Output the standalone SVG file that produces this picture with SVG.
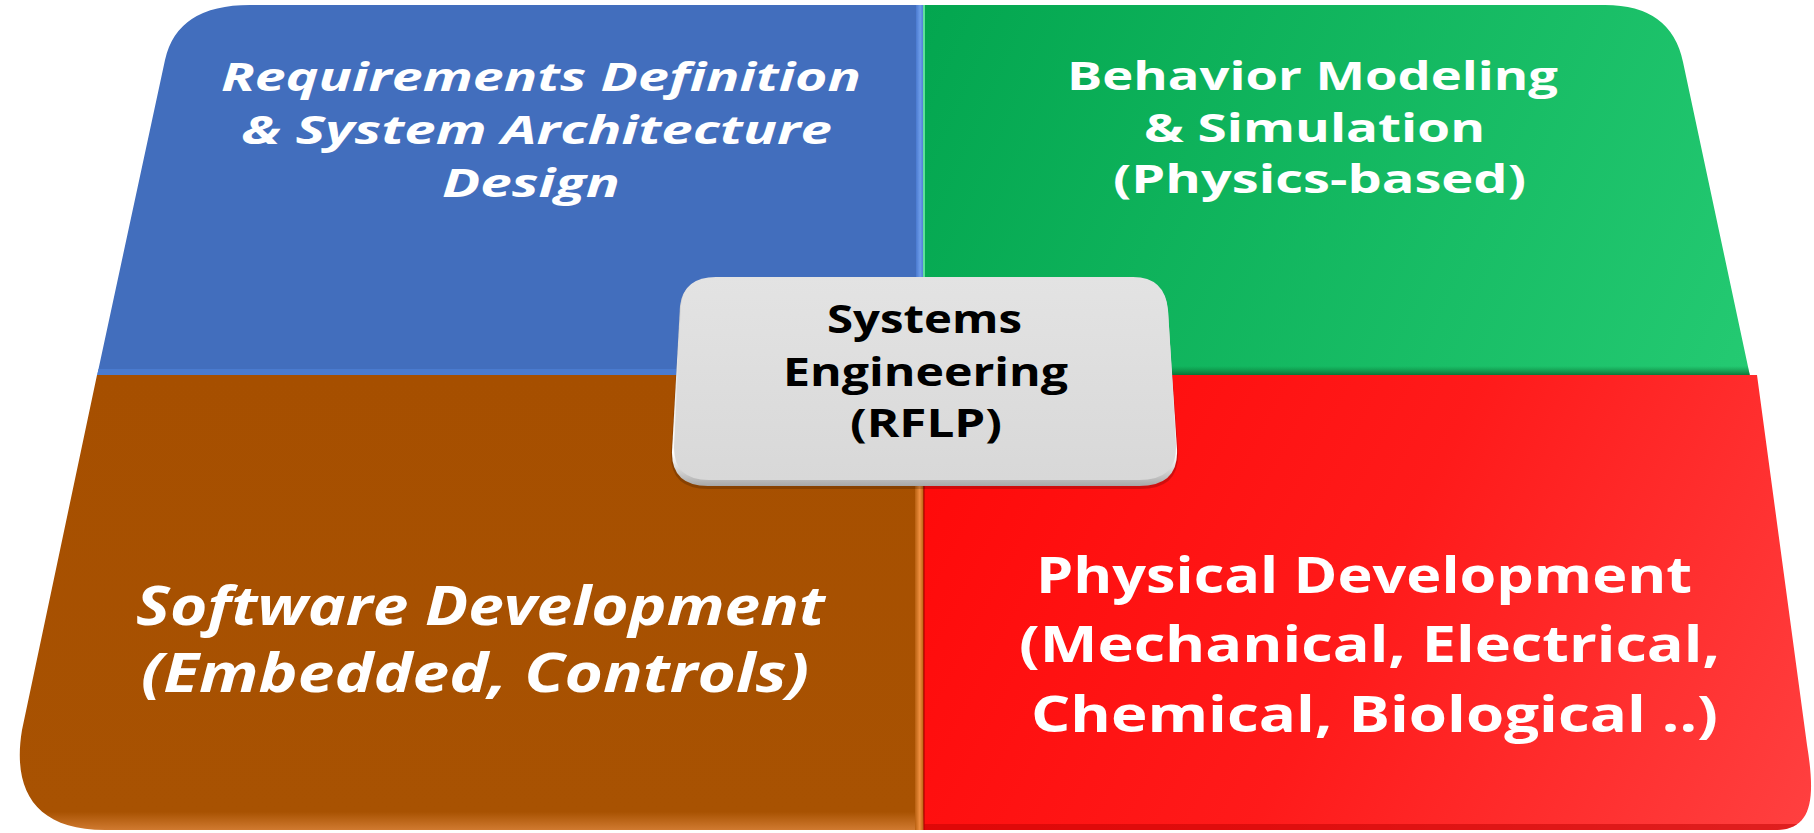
<svg xmlns="http://www.w3.org/2000/svg" width="1814" height="833" viewBox="0 0 1814 833">
  <style>
    .t { font-family: "Open Sans", "Noto Sans", "Liberation Sans", sans-serif; font-weight: bold; fill: #ffffff; }
    .i { font-style: italic; }
    .k { fill: #000000; }
  </style>
  <defs>
    <clipPath id="topClip">
      <path d="M 250,5 L 1605,5 Q 1671,5 1683,62 L 1750,376 L 97,376 L 165,60 Q 177,5 250,5 Z"/>
    </clipPath>
    <clipPath id="botClip">
      <path d="M 97,375 L 1757,375 L 1807,745 C 1816,800 1812,830 1775,830 L 105,830 C 35,830 12,790 22,730 Z"/>
    </clipPath>
    <linearGradient id="gGreen" gradientUnits="userSpaceOnUse" x1="925" y1="5" x2="1750" y2="376">
      <stop offset="0" stop-color="#03A64F"/>
      <stop offset="1" stop-color="#24CA72"/>
    </linearGradient>
    <linearGradient id="gRed" gradientUnits="userSpaceOnUse" x1="925" y1="376" x2="1810" y2="830">
      <stop offset="0" stop-color="#FF0808"/>
      <stop offset="0.5" stop-color="#FF1A1A"/>
      <stop offset="1" stop-color="#FF4040"/>
    </linearGradient>
    <linearGradient id="gBrown" gradientUnits="userSpaceOnUse" x1="0" y1="376" x2="0" y2="830">
      <stop offset="0" stop-color="#A64F00"/>
      <stop offset="0.96" stop-color="#A85202"/>
      <stop offset="1" stop-color="#D07A30"/>
    </linearGradient>
    <linearGradient id="gGreenShade" x1="0" y1="0" x2="0" y2="1">
      <stop offset="0" stop-color="#0A7A38" stop-opacity="0"/>
      <stop offset="1" stop-color="#07602B" stop-opacity="0.9"/>
    </linearGradient>
    <linearGradient id="gBoxFace" x1="0" y1="0" x2="0" y2="1">
      <stop offset="0" stop-color="#E3E3E3"/>
      <stop offset="1" stop-color="#D8D8D8"/>
    </linearGradient>
    <linearGradient id="gBoxRim" x1="0" y1="0" x2="0" y2="1">
      <stop offset="0" stop-color="#C8C8C8"/>
      <stop offset="0.85" stop-color="#FFFFFF"/>
      <stop offset="1" stop-color="#A8A8A8"/>
    </linearGradient>
    <linearGradient id="gSeamBlue" x1="0" y1="0" x2="1" y2="0">
      <stop offset="0" stop-color="#4A7AD0"/>
      <stop offset="0.6" stop-color="#6E9DEA"/>
      <stop offset="1" stop-color="#4F80D6"/>
    </linearGradient>
    <linearGradient id="gSeamOrange" x1="0" y1="0" x2="1" y2="0">
      <stop offset="0" stop-color="#B86010"/>
      <stop offset="0.6" stop-color="#F09040"/>
      <stop offset="1" stop-color="#C06818"/>
    </linearGradient>
  </defs>

  <g id="quadrant-requirements">
    <g clip-path="url(#topClip)">
      <rect x="0" y="0" width="923" height="380" fill="#426EBD"/>
      <rect x="916" y="0" width="7" height="380" fill="url(#gSeamBlue)"/>
      <rect x="0" y="369" width="923" height="7" fill="#4A7BCF"/>
    </g>
    <text class="t i" x="221" y="91" font-size="40" textLength="640" lengthAdjust="spacingAndGlyphs">Requirements Definition</text>
    <text class="t i" x="241" y="144" font-size="40" textLength="591" lengthAdjust="spacingAndGlyphs">&amp; System Architecture</text>
    <text class="t i" x="442" y="197" font-size="40" textLength="178" lengthAdjust="spacingAndGlyphs">Design</text>
  </g>

  <g id="quadrant-behavior">
    <g clip-path="url(#topClip)">
      <rect x="923" y="0" width="900" height="380" fill="url(#gGreen)"/>
      <rect x="923" y="0" width="2" height="380" fill="#5FE09A"/>
      <rect x="923" y="366" width="900" height="10" fill="url(#gGreenShade)"/>
    </g>
    <text class="t" x="1067" y="90" font-size="39" textLength="491" lengthAdjust="spacingAndGlyphs">Behavior Modeling</text>
    <text class="t" x="1144" y="142" font-size="39" textLength="341" lengthAdjust="spacingAndGlyphs">&amp; Simulation</text>
    <text class="t" x="1113" y="193" font-size="39" textLength="413" lengthAdjust="spacingAndGlyphs">(Physics-based)</text>
  </g>

  <g id="quadrant-software">
    <g clip-path="url(#botClip)">
      <rect x="0" y="370" width="924" height="470" fill="url(#gBrown)"/>
      <rect x="915" y="370" width="8" height="470" fill="url(#gSeamOrange)"/>
    </g>
    <text class="t i" x="136" y="625" font-size="53" textLength="689" lengthAdjust="spacingAndGlyphs">Software Development</text>
    <text class="t i" x="141" y="692" font-size="53" textLength="668" lengthAdjust="spacingAndGlyphs">(Embedded, Controls)</text>
  </g>

  <g id="quadrant-physical">
    <g clip-path="url(#botClip)">
      <rect x="924" y="370" width="900" height="470" fill="url(#gRed)"/>
      <rect x="923" y="370" width="2" height="470" fill="#B00000" opacity="0.6"/>
      <rect x="924" y="824" width="900" height="8" fill="#C00000" opacity="0.5"/>
    </g>
    <text class="t" x="1036" y="593" font-size="50" textLength="656" lengthAdjust="spacingAndGlyphs">Physical Development</text>
    <text class="t" x="1019" y="662" font-size="50" textLength="701" lengthAdjust="spacingAndGlyphs">(Mechanical, Electrical,</text>
    <text class="t" x="1031" y="732" font-size="50" textLength="687" lengthAdjust="spacingAndGlyphs">Chemical, Biological ..)</text>
  </g>

  <g id="connectors"/>

  <g id="center-systems-engineering">
    <path d="M 716,281 L 1133,281 Q 1165,281 1168,314 L 1178,452 Q 1180,489 1140,489 L 708,489 Q 670,489 671,454 L 680,309 Q 683,281 716,281 Z" fill="#000000" opacity="0.18"/>
    <path d="M 716,278 L 1133,278 Q 1165,278 1168,311 L 1177,449 Q 1179,486 1139,486 L 708,486 Q 671,486 672,451 L 680,306 Q 683,278 716,278 Z" fill="url(#gBoxRim)"/>
    <path d="M 716,277 L 1133,277 Q 1165,277 1168,310 L 1176,444 Q 1178,480 1139,480 L 709,480 Q 673,480 674,446 L 681,305 Q 684,277 716,277 Z" fill="url(#gBoxFace)"/>
    <text class="t k" x="827" y="333" font-size="39" textLength="195" lengthAdjust="spacingAndGlyphs">Systems</text>
    <text class="t k" x="783" y="386" font-size="39" textLength="285" lengthAdjust="spacingAndGlyphs">Engineering</text>
    <text class="t k" x="850" y="437" font-size="39" textLength="152" lengthAdjust="spacingAndGlyphs">(RFLP)</text>
  </g>
</svg>
